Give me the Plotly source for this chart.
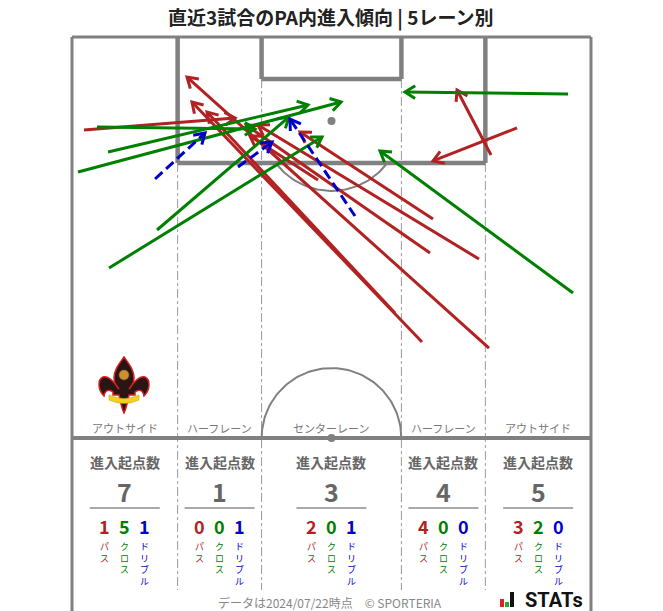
import numpy as np
import plotly.graph_objects as go

# ---------------- data (pitch metres: x across from left touchline, y down from goal line) -------------
pass_x0 = [1.57, 32.23, 42.32, 45.86, 47.30, 46.91, 53.33, 54.64, 58.31, 54.90]
pass_y0 = [12.18, 18.72, 36.14, 39.93, 23.83, 28.28, 29.07, 40.72, 11.91, 15.45]
pass_x1 = [21.36, 23.32, 17.69, 15.72, 29.87, 22.80, 24.37, 15.07, 47.30, 50.45]
pass_y1 = [10.60, 12.96, 9.82, 8.51, 12.44, 11.52, 11.52, 5.24, 16.23, 6.94]

cross_x0 = [3.28, 4.72, 0.79, 11.14, 4.85, 64.99, 65.65]
cross_y0 = [11.78, 15.06, 17.67, 25.27, 30.24, 7.46, 33.52]
cross_x1 = [23.98, 30.92, 35.25, 28.43, 32.76, 43.63, 40.36]
cross_y1 = [12.04, 8.90, 8.51, 10.47, 13.09, 7.20, 14.93]

drib_x0 = [10.88, 21.75, 37.08]
drib_y0 = [18.59, 17.02, 23.44]
drib_x1 = [17.43, 26.21, 28.56]
drib_y1 = [12.57, 13.75, 10.74]

lane_names = ["アウトサイド", "ハーフレーン", "センターレーン", "ハーフレーン", "アウトサイド"]
pass_counts = [1, 0, 2, 4, 3]
cross_counts = [5, 0, 0, 0, 2]
drib_counts = [1, 1, 1, 0, 0]

title_text = "直近3試合のPA内進入傾向 | 5レーン別"
footer_text = "データは2024/07/22時点\u3000© SPORTERIA"
kind_labels = ["パス", "クロス", "ドリブル"]

# ---------------- geometry / style ----------------
W, HALF = 68.0, 52.5
SX, SY = 7.632, 7.638          # px per metre
OX, OY = 72.0, 37.0            # pixel position of pitch origin
FW, FH = 663, 611

def mx(p):  # pixel x -> data x
    return (p - OX) / SX

def my(p):  # pixel y -> data y
    return (p - OY) / SY

RED, GREEN, BLUE = "#B22222", "#008000", "#0000CD"
LINE = "#808080"
FONT = "Noto Sans CJK JP"

fig = go.Figure()
shapes = []

def seg(x0, y0, x1, y1, w, color=LINE, dash=None):
    d = dict(type="line", x0=x0, y0=y0, x1=x1, y1=y1, xref="x", yref="y",
             line=dict(color=color, width=w), layer="below")
    if dash:
        d["line"]["dash"] = dash
    shapes.append(d)

pa_l, pa_r = (W - 40.32) / 2, (W + 40.32) / 2
ga_l, ga_r = (W - 18.32) / 2, (W + 18.32) / 2
bottom = my(FH + 5)

# lane divider lines (dash-dot)
for xv, ystart in [(pa_l, 16.5), (ga_l, 5.5), (ga_r, 5.5), (pa_r, 16.5)]:
    seg(xv, ystart, xv, my(590), 1, "#9a9a9a", "dashdot")

# outer lines
seg(0, 0, W, 0, 3)
seg(0, 0, 0, bottom, 3)
seg(W, 0, W, bottom, 3)
seg(0, HALF, W, HALF, 4)
# penalty area
seg(pa_l, 0, pa_l, 16.5, 4.5)
seg(pa_r, 0, pa_r, 16.5, 4.5)
seg(pa_l, 16.5, pa_r, 16.5, 4.5)
# goal area
seg(ga_l, 0, ga_l, 5.5, 4.5)
seg(ga_r, 0, ga_r, 5.5, 4.5)
seg(ga_l, 5.5, ga_r, 5.5, 4.5)

# penalty arc and centre circle
th = np.linspace(np.arcsin(5.5 / 9.15), np.pi - np.arcsin(5.5 / 9.15), 60)
fig.add_trace(go.Scatter(x=34 + 9.15 * np.cos(th), y=11 + 9.15 * np.sin(th), mode="lines",
                         line=dict(color=LINE, width=2), hoverinfo="skip", showlegend=False))
th2 = np.linspace(0, np.pi, 100)
fig.add_trace(go.Scatter(x=34 + 9.15 * np.cos(th2), y=HALF - 9.15 * np.sin(th2), mode="lines",
                         line=dict(color=LINE, width=2), hoverinfo="skip", showlegend=False))
fig.add_trace(go.Scatter(x=[34, 34], y=[11, HALF], mode="markers",
                         marker=dict(color=LINE, size=8), hoverinfo="skip", showlegend=False))

annotations = []
HEAD_LEN, HEAD_ANG = 12.0, np.radians(32)

def arrows(x0s, y0s, x1s, y1s, color, dash):
    for a, b, c, d in zip(x0s, y0s, x1s, y1s):
        fig.add_trace(go.Scatter(x=[a, c], y=[b, d], mode="lines",
                                 line=dict(color=color, width=3, dash=dash),
                                 hoverinfo="skip", showlegend=False))
        # chevron head computed in pixel space
        ux, uy = (c - a) * SX, (d - b) * SY
        ang = np.arctan2(uy, ux)
        wx, wy = [], []
        for s in (1, -1):
            t = ang + np.pi + s * HEAD_ANG
            wx.append(c + HEAD_LEN * np.cos(t) / SX)
            wy.append(d + HEAD_LEN * np.sin(t) / SY)
        fig.add_trace(go.Scatter(x=[wx[0], c, wx[1]], y=[wy[0], d, wy[1]], mode="lines",
                                 line=dict(color=color, width=3),
                                 hoverinfo="skip", showlegend=False))

arrows(pass_x0, pass_y0, pass_x1, pass_y1, RED, "solid")
arrows(cross_x0, cross_y0, cross_x1, cross_y1, GREEN, "solid")
arrows(drib_x0, drib_y0, drib_x1, drib_y1, BLUE, "10px,5px")

# ---------------- lane labels & stats panel ----------------
lane_px = [(OX + (OX + pa_l * SX)) / 2, (OX + pa_l * SX + OX + ga_l * SX) / 2, OX + 34 * SX,
           (OX + ga_r * SX + OX + pa_r * SX) / 2, (OX + pa_r * SX + OX + W * SX) / 2]
kind_colors = [RED, GREEN, BLUE]

for i, name in enumerate(lane_names):
    cx = mx(lane_px[i])
    annotations.append(dict(x=cx, y=my(428), text=name, showarrow=False,
                            font=dict(family=FONT, size=11, color="#777777")))
    annotations.append(dict(x=cx, y=my(462), text="<b>進入起点数</b>", showarrow=False,
                            font=dict(family=FONT, size=14, color="#666666")))
    total = pass_counts[i] + cross_counts[i] + drib_counts[i]
    annotations.append(dict(x=cx, y=my(491), text="<b>%d</b>" % total, showarrow=False,
                            font=dict(family=FONT, size=25, color="#666666")))
    shapes.append(dict(type="line", xref="x", yref="y", x0=mx(lane_px[i] - 35), x1=mx(lane_px[i] + 35),
                       y0=my(508), y1=my(508), line=dict(color="#555555", width=1)))
    vals = [pass_counts[i], cross_counts[i], drib_counts[i]]
    for k in range(3):
        kx = mx(lane_px[i] + (k - 1) * 20)
        annotations.append(dict(x=kx, y=my(526), text="<b>%d</b>" % vals[k], showarrow=False,
                                font=dict(family=FONT, size=18, color=kind_colors[k])))
        annotations.append(dict(x=kx, y=my(538), yanchor="top", text="<br>".join(kind_labels[k]),
                                showarrow=False, align="center",
                                font=dict(family=FONT, size=9, color=kind_colors[k])))

# title and footer
annotations.append(dict(x=mx(331), y=my(17), text="<b>" + title_text + "</b>", showarrow=False,
                        font=dict(family=FONT, size=19, color="#222222")))
annotations.append(dict(x=mx(330), y=my(602), text=footer_text, showarrow=False,
                        font=dict(family=FONT, size=12, color="#888888")))
annotations.append(dict(x=mx(554), xref="x", y=0, yref="paper", yanchor="bottom", yshift=-3,
                        text="<b>STATs</b>", showarrow=False,
                        font=dict(family="Roboto", size=20, color="#111111")))
for (l, t, r, b, c) in [(500, 599, 504, 607, "#dd2222"), (505, 602, 509, 607, "#22aa33"), (510, 592, 514, 607, "#111111")]:
    shapes.append(dict(type="rect", xref="x", yref="y", x0=mx(l), x1=mx(r), y0=my(t), y1=my(b),
                       fillcolor=c, line=dict(width=0)))

# ---------------- emblem (decorative fleur-de-lis) ----------------
ECX, ECY = 124, 385

def P(dx, dy):
    return "%.3f,%.3f" % (mx(ECX + dx), my(ECY + dy))

right = [("C", [(5, -21), (10, -15), (10, -7)]), ("C", [(10, -2), (7, 2), (5, 4)]),
         ("C", [(9, -2), (16, -10), (21, -8)]), ("C", [(27, -5), (26, 5), (20, 11)]),
         ("C", [(19, 5), (15, 4), (11, 7)]), ("L", [(11, 10)]), ("L", [(5, 10)]),
         ("L", [(3, 19)]), ("C", [(2, 23), (1, 26), (0, 28)])]
path = "M " + P(0, -28)
for cmd, pts in right:
    path += " %s %s" % (cmd, " ".join(P(x, y) for x, y in pts))
left_pts = [(0, 28), (-1, 26), (-2, 23), (-3, 19), (-5, 10), (-11, 10), (-11, 7), (-15, 4), (-19, 5), (-20, 11),
            (-26, 5), (-27, -5), (-21, -8), (-16, -10), (-9, -2), (-5, 4), (-7, 2), (-10, -2), (-10, -7),
            (-10, -15), (-5, -21), (0, -28)]
path += " C " + " ".join(P(x, y) for x, y in left_pts[1:4])
path += " L " + P(*left_pts[4]) + " L " + P(*left_pts[5]) + " L " + P(*left_pts[6])
path += " C " + " ".join(P(x, y) for x, y in left_pts[7:10])
path += " C " + " ".join(P(x, y) for x, y in left_pts[10:13])
path += " C " + " ".join(P(x, y) for x, y in left_pts[13:16])
path += " C " + " ".join(P(x, y) for x, y in left_pts[16:19])
path += " C " + " ".join(P(x, y) for x, y in left_pts[19:22]) + " Z"
shapes.append(dict(type="path", xref="x", yref="y", path=path, fillcolor="#2a1414",
                   line=dict(color="#d42020", width=1.5)))
shapes.append(dict(type="circle", xref="x", yref="y", x0=mx(ECX - 5), x1=mx(ECX + 5),
                   y0=my(ECY - 15), y1=my(ECY - 5), fillcolor="#c8902e", line=dict(color="#8a5a10", width=0.5)))
banner = ("M " + P(-15, 10) + " Q " + P(0, 17) + " " + P(15, 10) + " L " + P(15, 15) +
          " Q " + P(0, 22) + " " + P(-15, 15) + " Z")
shapes.append(dict(type="path", xref="x", yref="y", path=banner, fillcolor="#f2d21b",
                   line=dict(color="#b89a10", width=0.5)))

fig.update_layout(
    width=FW, height=FH, margin=dict(l=0, r=0, t=0, b=0),
    paper_bgcolor="white", plot_bgcolor="white",
    xaxis=dict(range=[mx(0), mx(FW)], visible=False, fixedrange=True),
    yaxis=dict(range=[my(FH), my(0)], visible=False, fixedrange=True),
    shapes=shapes, annotations=annotations, showlegend=False,
)
fig.write_html("out.html", config={"displayModeBar": False},
               post_script="document.body.style.margin='0';document.body.style.overflow='hidden';")
